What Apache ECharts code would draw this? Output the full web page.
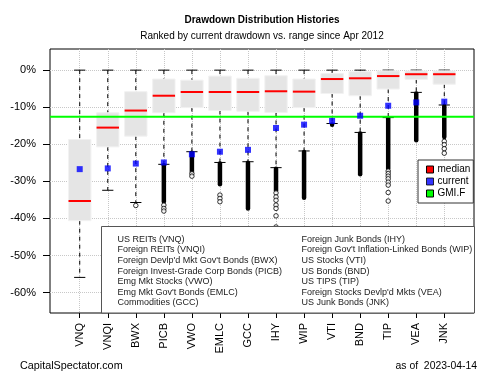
<!DOCTYPE html>
<html><head><meta charset="utf-8">
<script src="https://cdn.jsdelivr.net/npm/echarts@6/dist/echarts.min.js"></script>
<style>html,body{margin:0;padding:0;background:#fff}#c{width:500px;height:375px}</style>
</head><body><div id="c"></div>
<script>
// ---- data (percent drawdown) ----
const categories = ['VNQ','VNQI','BWX','PICB','VWO','EMLC','GCC','IHY','WIP','VTI','BND','TIP','VEA','JNK'];
const upperWhisker = [0,0,0,0,0,0,0,0,0,0,0,0,0,0];
const q3 = [-18.7,-11.5,-5.8,-2.4,-2.7,-1.6,-2.2,-1.5,-2.4,-0.9,-0.4,-0.2,-0.2,-0.2];
const median = [-35.3,-15.5,-10.9,-6.9,-5.9,-5.9,-5.9,-5.7,-5.8,-2.4,-2.2,-1.6,-1.1,-1.1];
const q1 = [-40.6,-20.7,-17.8,-11.5,-10.1,-10.9,-11.1,-11.4,-10.1,-6.3,-6.9,-5.1,-2.5,-3.8];
const lowerWhisker = [-55.9,-32.4,-35.7,-25.4,-22.0,-24.9,-24.7,-26.3,-21.8,-14.4,-16.8,-12.8,-6.0,-9.4];
const denseOutlierEnd = [null,null,null,-35.5,-27.4,-30.8,-37.3,-32.4,-34.4,-14.7,-28.1,-26.5,-18.9,-18.0];
const current = [-26.7,-26.5,-25.2,-24.9,-22.7,-22.0,-21.5,-15.6,-14.7,-13.7,-12.3,-9.6,-8.7,-8.5];
const sparseOutliers = [
  ['BWX',-36.5],
  ['PICB',-36.4],['PICB',-37.3],['PICB',-38.0],
  ['VWO',-27.9],['VWO',-28.6],
  ['EMLC',-33.7],['EMLC',-34.6],['EMLC',-35.5],
  ['IHY',-33.1],['IHY',-34.2],['IHY',-35.1],['IHY',-36.4],['IHY',-37.3],['IHY',-39.3],['IHY',-42.3],
  ['TIP',-27.2],['TIP',-27.9],['TIP',-28.6],['TIP',-29.3],['TIP',-30.2],['TIP',-31.0],['TIP',-33.0],['TIP',-35.3],
  ['JNK',-19.2],['JNK',-20.1],['JNK',-21.2],['JNK',-22.4]
];
const gmif = -12.6;
const yTicks = [-60,-50,-40,-30,-20,-10,0];
const namesLeft = ['US REITs (VNQ)','Foreign REITs (VNQI)',"Foreign Devlp'd Mkt Gov't Bonds (BWX)",'Foreign Invest-Grade Corp Bonds (PICB)','Emg Mkt Stocks (VWO)',"Emg Mkt Gov't Bonds (EMLC)",'Commodities (GCC)'];
const namesRight = ['Foreign Junk Bonds (IHY)',"Foreign Gov't Inflation-Linked Bonds (WIP)",'US Stocks (VTI)','US Bonds (BND)','US TIPS (TIP)',"Foreign Stocks Devlp'd Mkts (VEA)",'US Junk Bonds (JNK)'];

// ---- layout ----
const FONT = '"Liberation Sans", Arial, Helvetica, sans-serif';
const P = {left:50, right:474, top:49, bottom:313};
const YMIN = -65.5, YMAX = 5.7, XMIN = -1.06, XMAX = 14.06;
const pxPerY = (P.bottom-P.top)/(YMAX-YMIN);
const yOf = v => P.top + (YMAX - v)*pxPerY;
const pxPerX = (P.right-P.left)/(XMAX-XMIN);
const xOf = i => P.left + (i - XMIN)*pxPerX;
const BOXW = 0.8, STAPLE = 0.4;
const dash = [4,4];

const boxData = categories.map((c,i)=>[i, upperWhisker[i], q3[i], median[i], q1[i], lowerWhisker[i]]);
const denseData = categories.map((c,i)=>[i, lowerWhisker[i], denseOutlierEnd[i]]).filter(d=>d[2]!==null);
const sparseData = sparseOutliers.map(d=>[categories.indexOf(d[0]), d[1]]);
const currentData = categories.map((c,i)=>[i, current[i]]);

function boxRender(params, api){
  const i = api.value(0);
  const x = api.coord([i,0])[0];
  const half = api.size([BOXW,0])[0]/2;
  const sh = api.size([STAPLE,0])[0]/2;
  const yU = api.coord([i, api.value(1)])[1];
  const y3 = api.coord([i, api.value(2)])[1];
  const yM = api.coord([i, api.value(3)])[1];
  const y1 = api.coord([i, api.value(4)])[1];
  const yL = api.coord([i, api.value(5)])[1];
  const ls = {stroke:'#000', lineWidth:1, lineDash:dash};
  const ss = {stroke:'#000', lineWidth:1};
  return {type:'group', children:[
    {type:'line', shape:{x1:x,y1:yU,x2:x,y2:y3}, style:ls},
    {type:'line', shape:{x1:x,y1:y1,x2:x,y2:yL}, style:ls},
    {type:'line', shape:{x1:x-sh,y1:yU,x2:x+sh,y2:yU}, style:ss},
    {type:'line', shape:{x1:x-sh,y1:yL,x2:x+sh,y2:yL}, style:ss},
    {type:'rect', shape:{x:x-half,y:y3,width:2*half,height:y1-y3}, style:{fill:'#e5e5e5', stroke:'#f2f2f2', lineWidth:1}},
    {type:'line', shape:{x1:x-half,y1:yM,x2:x+half,y2:yM}, style:{stroke:'#ff0000', lineWidth:2}}
  ]};
}
function denseRender(params, api){
  const i = api.value(0);
  const p1 = api.coord([i, api.value(1)]);
  const p2 = api.coord([i, api.value(2)]);
  return {type:'line', shape:{x1:p1[0],y1:p1[1]+1,x2:p2[0],y2:p2[1]}, style:{stroke:'#000', lineWidth:4.5, lineCap:'round'}};
}
function gmiRender(params, api){
  const y = api.coord([0, api.value(1)])[1];
  const cs = params.coordSys;
  return {type:'line', shape:{x1:cs.x,y1:y,x2:cs.x+cs.width,y2:y}, style:{stroke:'#00ff00', lineWidth:2}};
}

const chart = echarts.init(document.getElementById('c'));
const gridStyle = {color:'#c8c8c8', type:'dotted', width:1};
chart.setOption({
  animation:false,
  textStyle:{fontFamily:FONT},
  title:[
    {text:'Drawdown Distribution Histories', left:262, top:15, textAlign:'center', padding:0,
     textStyle:{fontSize:10, fontWeight:'bold', color:'#000', fontFamily:FONT}},
    {text:'Ranked by current drawdown vs. range since Apr 2012', left:262, top:31.5, textAlign:'center', padding:0,
     textStyle:{fontSize:10, fontWeight:'normal', color:'#000', fontFamily:FONT}},
    {text:'CapitalSpectator.com', left:20, top:361, padding:0,
     textStyle:{fontSize:10.8, fontWeight:'normal', color:'#000', fontFamily:FONT}},
    {text:'as of  2023-04-14', right:23, top:361, padding:0,
     textStyle:{fontSize:10.4, fontWeight:'normal', color:'#000', fontFamily:FONT}}
  ],
  legend:{
    data:['median','current','GMI.F'], orient:'vertical', left:418, top:160,
    backgroundColor:'#fff', borderColor:'#333', borderWidth:1, padding:[4,3,4,8],
    icon:'rect', itemWidth:7, itemHeight:7, itemGap:1,
    itemStyle:{borderColor:'#000', borderWidth:1},
    textStyle:{fontSize:10, lineHeight:11, color:'#000', fontFamily:FONT, padding:[0,0,0,-1]},
    selectedMode:false, z:20
  },
  grid:[
    {left:P.left, top:P.top, width:P.right-P.left, height:P.bottom-P.top, show:true, borderColor:'#000', borderWidth:1, backgroundColor:'transparent'},
    {left:P.left, top:yOf(0), width:P.right-P.left, height:yOf(-60)-yOf(0), show:false},
    {left:xOf(0), top:P.top, width:xOf(13)-xOf(0), height:P.bottom-P.top, show:false}
  ],
  xAxis:[
    {gridIndex:0, type:'value', min:XMIN, max:XMAX, show:false},
    {gridIndex:1, type:'value', min:0, max:1, show:false},
    {gridIndex:2, type:'category', data:categories, boundaryGap:false,
     axisLine:{show:false},
     axisTick:{show:true, length:5, interval:0, lineStyle:{color:'#000'}},
     axisLabel:{rotate:90, interval:0, fontSize:11, color:'#000', margin:10, fontFamily:FONT},
     splitLine:{show:true, interval:0, lineStyle:gridStyle}}
  ],
  yAxis:[
    {gridIndex:0, type:'value', min:YMIN, max:YMAX, show:false},
    {gridIndex:1, type:'value', min:yTicks[0], max:yTicks[yTicks.length-1], interval:10,
     axisLine:{show:false},
     axisTick:{show:true, length:7, lineStyle:{color:'#000'}},
     axisLabel:{formatter:'{value}%', fontSize:11, color:'#000', margin:14, fontFamily:FONT},
     splitLine:{show:true, lineStyle:gridStyle}},
    {gridIndex:2, type:'value', min:0, max:1, show:false}
  ],
  series:[
    {name:'median', type:'custom', xAxisIndex:0, yAxisIndex:0, data:boxData, renderItem:boxRender,
     itemStyle:{color:'#ff0000'}, encode:{x:0, y:[1,2,3,4,5]}, z:3},
    {name:'outliers', type:'custom', xAxisIndex:0, yAxisIndex:0, data:denseData, renderItem:denseRender,
     itemStyle:{color:'#000'}, encode:{x:0, y:[1,2]}, z:4},
    {name:'outlierPts', type:'scatter', xAxisIndex:0, yAxisIndex:0, data:sparseData,
     symbol:'circle', symbolSize:4.5, itemStyle:{color:'#fff', borderColor:'#000', borderWidth:1}, z:4},
    {name:'GMI.F', type:'custom', xAxisIndex:0, yAxisIndex:0, data:[[0, gmif]], renderItem:gmiRender,
     itemStyle:{color:'#00ff00'}, encode:{x:0, y:1}, z:5},
    {name:'current', type:'scatter', xAxisIndex:0, yAxisIndex:0, data:currentData,
     symbol:'rect', symbolSize:6, itemStyle:{color:'#0000ff'}, z:6}
  ],
  graphic:[
    {type:'rect', z:50, shape:{x:101.5, y:226.5, width:373, height:86.5}, style:{fill:'#fff', stroke:'#555', lineWidth:1}},
    {type:'text', z:51, x:117.5, y:234, style:{text:namesLeft.join('\n'), font:'9px '+FONT, fill:'#222', lineHeight:10.6, verticalAlign:'top'}},
    {type:'text', z:51, x:301.5, y:234, style:{text:namesRight.join('\n'), font:'9px '+FONT, fill:'#222', lineHeight:10.6, verticalAlign:'top'}}
  ]
});
</script></body></html>
